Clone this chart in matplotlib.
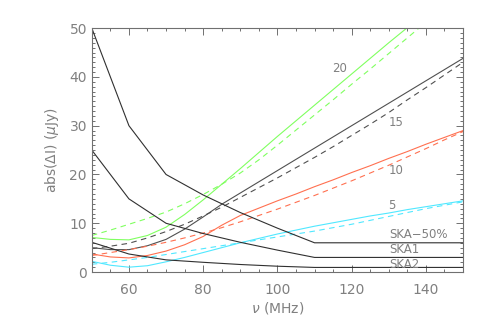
import numpy as np
import matplotlib
matplotlib.use("Agg")
import matplotlib.pyplot as plt
from matplotlib.ticker import MultipleLocator

# frequencies (MHz) for the residual curves
nu = [50, 55, 60, 65, 70, 75, 80, 85, 90, 95, 100, 105, 110,
      115, 120, 125, 130, 135, 140, 145, 150]

# residuals for 20, 15, 10, 5 (solid and dashed)
res20_solid = [7.1, 6.7, 6.6, 7.5, 9.2, 11.8, 14.8, 18.0, 21.2, 24.5, 27.8, 31.0, 34.2,
               37.4, 40.6, 43.8, 47.0, 50.1, 53.2, 56.4, 59.6]
res20_dash = [7.5, 8.6, 9.8, 11.0, 12.3, 14.0, 15.9, 18.0, 20.3, 23.0, 26.0, 29.1, 32.2,
              35.3, 38.5, 41.6, 44.8, 48.0, 51.2, 54.4, 57.6]
res15_solid = [5.0, 4.6, 4.6, 5.4, 6.7, 8.8, 11.3, 13.9, 16.2, 18.5, 20.8, 23.1, 25.4,
               27.7, 30.0, 32.3, 34.6, 36.9, 39.2, 41.5, 43.8]
res15_dash = [4.8, 5.3, 5.9, 7.0, 8.3, 9.8, 11.5, 13.3, 15.3, 17.3, 19.3, 21.4, 23.5,
              25.7, 28.0, 30.3, 32.7, 35.3, 37.8, 40.4, 43.0]
res10_solid = [3.7, 3.1, 2.9, 3.4, 4.3, 5.6, 7.3, 9.6, 11.6, 13.1, 14.6, 16.0, 17.5,
               18.9, 20.4, 21.8, 23.3, 24.7, 26.2, 27.6, 29.0]
res10_dash = [3.4, 4.0, 4.6, 5.3, 6.1, 7.0, 8.0, 9.1, 10.3, 11.6, 12.9, 14.3, 15.7,
              17.2, 18.7, 20.3, 21.9, 23.6, 25.3, 27.1, 28.8]
res5_solid = [2.2, 1.4, 1.0, 1.3, 2.1, 3.0, 4.0, 5.0, 6.0, 6.9, 7.8, 8.6, 9.4,
              10.1, 10.8, 11.5, 12.1, 12.8, 13.4, 14.0, 14.6]
res5_dash = [1.6, 2.0, 2.5, 3.0, 3.6, 4.2, 4.8, 5.4, 6.0, 6.6, 7.2, 7.8, 8.4,
             9.1, 9.8, 10.6, 11.4, 12.2, 13.0, 13.7, 14.4]

# SKA sensitivities
nu_ska = [50, 60, 70, 80, 90, 100, 110, 150]
ska50 = [50.0, 30.0, 20.0, 15.8, 12.2, 9.0, 6.0, 6.0]
ska1 = [25.0, 15.0, 10.0, 7.9, 6.1, 4.5, 3.0, 3.0]
ska2 = [6.1, 3.7, 2.5, 2.0, 1.55, 1.2, 0.95, 0.95]

green = '#80ff60'
grey = '#505050'
red = '#ff7050'
cyan = '#50e8ff'
axcol = '#707070'
txtcol = '#808080'

fig = plt.figure(figsize=(4.91, 3.27), dpi=100)
ax = fig.add_axes([0.187, 0.168, 0.756, 0.746])

lw = 0.8
dash = (5, 4)
ax.plot(nu, res20_solid, color=green, lw=lw)
ax.plot(nu, res20_dash, color=green, lw=lw, dashes=dash)
ax.plot(nu, res15_solid, color=grey, lw=lw)
ax.plot(nu, res15_dash, color=grey, lw=lw, dashes=dash)
ax.plot(nu, res10_solid, color=red, lw=lw)
ax.plot(nu, res10_dash, color=red, lw=lw, dashes=dash)
ax.plot(nu, res5_solid, color=cyan, lw=lw)
ax.plot(nu, res5_dash, color=cyan, lw=lw, dashes=dash)

ax.plot(nu_ska, ska50, color='#303030', lw=lw)
ax.plot(nu_ska, ska1, color='#303030', lw=lw)
ax.plot(nu_ska, ska2, color='#303030', lw=lw)

fs = 8.5
ax.text(116.8, 41.8, '20', color=txtcol, fontsize=fs, ha='center', va='center')
ax.text(132.1, 30.7, '15', color=txtcol, fontsize=fs, ha='center', va='center')
ax.text(132.1, 20.9, '10', color=txtcol, fontsize=fs, ha='center', va='center')
ax.text(130.9, 13.7, '5', color=txtcol, fontsize=fs, ha='center', va='center')
ax.text(130.0, 7.6, 'SKA\u221250%', color=txtcol, fontsize=fs, ha='left', va='center')
ax.text(130.0, 4.55, 'SKA1', color=txtcol, fontsize=fs, ha='left', va='center')
ax.text(130.0, 1.63, 'SKA2', color=txtcol, fontsize=fs, ha='left', va='center')

ax.set_xlim(50, 150)
ax.set_ylim(0, 50)
ax.xaxis.set_major_locator(MultipleLocator(20))
ax.xaxis.set_minor_locator(MultipleLocator(5))
ax.yaxis.set_major_locator(MultipleLocator(10))
ax.yaxis.set_minor_locator(MultipleLocator(1))
ax.set_xticks([60, 80, 100, 120, 140])

ax.tick_params(which='both', direction='in', top=True, right=True,
               colors=axcol, labelcolor=txtcol, labelsize=10, width=0.7)
ax.tick_params(which='major', length=5)
ax.tick_params(which='minor', length=2.5)
ax.tick_params(axis='x', pad=8)
for s in ax.spines.values():
    s.set_color(axcol)
    s.set_linewidth(0.8)

ax.set_xlabel(r'$\nu$ (MHz)', color=txtcol, fontsize=10, labelpad=2)
ax.set_ylabel(r'abs($\Delta$I) ($\mu$Jy)', color=txtcol, fontsize=10, labelpad=6)

fig.savefig('out.png', dpi=100)
